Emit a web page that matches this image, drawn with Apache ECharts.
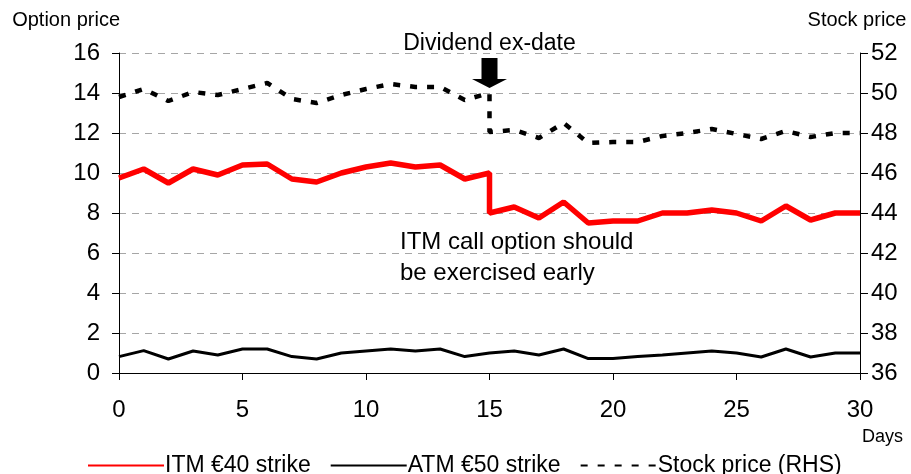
<!DOCTYPE html>
<html>
<head>
<meta charset="utf-8">
<script src="https://cdn.jsdelivr.net/npm/echarts@6/dist/echarts.min.js"></script>
<style>
  html, body { margin: 0; padding: 0; background: #fff; }
  #chart { width: 911px; height: 474px; }
</style>
</head>
<body>
<div id="chart"></div>
<script>
// days 0..30, dividend goes ex on day 15
const days = [0,1,2,3,4,5,6,7,8,9,10,11,12,13,14,15,16,17,18,19,20,21,22,23,24,25,26,27,28,29,30]
const exDate = 15
// option prices (LHS), value at day 15 is the one just before the drop
const itm = [9.75,10.2,9.5,10.2,9.9,10.4,10.45,9.7,9.55,10.0,10.3,10.5,10.3,10.4,9.7,10.0,8.3,7.75,8.55,7.5,7.6,7.6,8.0,8.0,8.15,8.0,7.6,8.35,7.65,8.0,8.0]
const itmExDiv = 8.0
const atm = [0.82,1.12,0.7,1.1,0.9,1.2,1.2,0.82,0.7,1.0,1.1,1.2,1.1,1.2,0.82,1.0,1.1,0.9,1.2,0.72,0.72,0.82,0.9,1.0,1.1,1.0,0.8,1.2,0.8,1.0,1.0]
// stock price (RHS)
const stock = [49.8,50.2,49.6,50.05,49.9,50.2,50.5,49.7,49.5,49.9,50.2,50.45,50.3,50.3,49.65,50.0,48.15,47.75,48.5,47.5,47.55,47.55,47.85,48.0,48.2,47.95,47.7,48.1,47.8,48.0,48.0]
const stockExDiv = 48.05

const leftTicks = { min: 0, max: 16, interval: 2 }
const rightTicks = { min: 36, max: 52, interval: 2 }

// pair days with values, adding the post-dividend point at the ex-date
const withDrop = (vals, after) => {
  const out = []
  days.forEach((d, i) => {
    out.push([d, vals[i]])
    if (after !== undefined && d === exDate) out.push([d, after])
  })
  return out
}

const font = 'Liberation Sans, Arial, sans-serif'
const chart = echarts.init(document.getElementById('chart'))

chart.setOption({
  animation: false,
  textStyle: { fontFamily: font, color: '#000' },
  grid: { left: 119, right: 51, top: 53, bottom: 101 },
  legend: {
    left: 82,
    top: 449,
    itemWidth: 76,
    itemHeight: 14,
    itemGap: 19,
    itemStyle: { opacity: 0 },
    textStyle: { fontSize: 23, color: '#000', fontFamily: font, padding: [0, 0, 0, -4] },
    data: ['ITM €40 strike', 'ATM €50 strike', 'Stock price (RHS)']
  },
  xAxis: {
    type: 'value',
    min: 0, max: 30, interval: 5,
    axisLine: { show: true, lineStyle: { color: '#000', width: 1 } },
    axisTick: { show: true, length: 7, lineStyle: { color: '#000' } },
    axisLabel: { fontSize: 24, color: '#000', margin: 25 },
    splitLine: { show: false }
  },
  yAxis: [
    {
      type: 'value',
      position: 'left',
      ...leftTicks,
      name: 'Option price',
      nameLocation: 'end',
      nameGap: 23,
      nameTextStyle: { fontSize: 20, color: '#000', align: 'right', padding: [0, -1, 0, 0] },
      axisLine: { show: true, lineStyle: { color: '#000', width: 1 } },
      axisTick: { show: true, length: 7, lineStyle: { color: '#000' } },
      axisLabel: { fontSize: 24, color: '#000', margin: 19 },
      splitLine: { show: true, lineStyle: { color: '#a6a6a6', type: [7, 6], width: 1 } }
    },
    {
      type: 'value',
      position: 'right',
      ...rightTicks,
      name: 'Stock price',
      nameLocation: 'end',
      nameGap: 23,
      nameTextStyle: { fontSize: 20, color: '#000', padding: [0, 0, 0, -6] },
      axisLine: { show: true, lineStyle: { color: '#000', width: 1 } },
      axisTick: { show: true, length: 8, lineStyle: { color: '#000' } },
      axisLabel: { fontSize: 24, color: '#000', margin: 11 },
      splitLine: { show: false }
    }
  ],
  graphic: [
    { type: 'text', left: 862, top: 428, style: { text: 'Days', fontSize: 18, fontFamily: font, fill: '#000' } },
    {
      type: 'text', left: 400, top: 227,
      style: { text: 'ITM call option should\nbe exercised early', fontSize: 24, lineHeight: 31, fontFamily: font, fill: '#000' }
    }
  ],
  series: [
    {
      name: 'ITM €40 strike',
      type: 'line',
      yAxisIndex: 0,
      data: withDrop(itm, itmExDiv),
      symbol: 'none',
      lineStyle: { color: '#ff0000', width: 5.5 },
      itemStyle: { color: '#ff0000' },
      z: 3
    },
    {
      name: 'ATM €50 strike',
      type: 'line',
      yAxisIndex: 0,
      data: withDrop(atm),
      symbol: 'none',
      lineStyle: { color: '#000', width: 3 },
      itemStyle: { color: '#000' },
      z: 3
    },
    {
      name: 'Stock price (RHS)',
      type: 'line',
      yAxisIndex: 1,
      data: withDrop(stock, stockExDiv),
      symbol: 'none',
      lineStyle: { color: '#000', width: 4.5, type: [7, 10] },
      itemStyle: { color: '#000' },
      z: 3,
      markPoint: {
        silent: true,
        symbol: 'path://M9.5,0 L25.5,0 L25.5,21 L35,21 L17.5,30 L0,21 L9.5,21 Z',
        symbolSize: [35, 30],
        itemStyle: { color: '#000', opacity: 1 },
        label: {
          show: true,
          position: 'top',
          distance: 3,
          formatter: 'Dividend ex-date',
          fontSize: 23,
          color: '#000',
          fontFamily: font
        },
        data: [{ coord: [exDate, 51.0] }]
      }
    }
  ]
})
</script>
</body>
</html>
